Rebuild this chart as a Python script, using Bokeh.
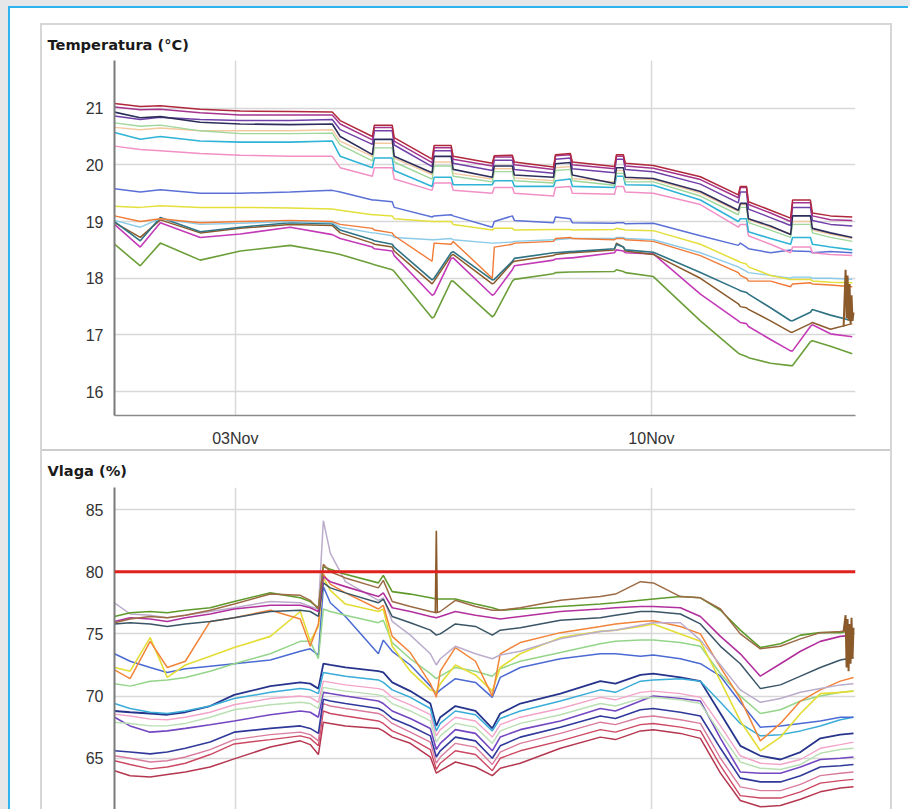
import pandas as pd
from bokeh.plotting import figure
from bokeh.layouts import column, row
from bokeh.models import (Range1d, FixedTicker, DatetimeTickFormatter, Span,
                          Div, Spacer, Grid)
from bokeh.embed import file_html
from bokeh.resources import INLINE

# ---------------- data ----------------
START = pd.Timestamp("2015-10-31 23:15")
SPAN_HOURS = 299.1
DATE_TICKS = ["2015-11-03", "2015-11-10"]
TEMP_TICKS = [16, 17, 18, 19, 20, 21]
HUM_TICKS = [65, 70, 75, 80, 85]
HUM_LIMIT = 80
TEMP_TITLE = "Temperatura (°C)"
HUM_TITLE = "Vlaga (%)"

# temperature: hours since START
T_HOURS = [0, 10.4, 18.5, 34.6, 50.8, 70.9, 87.9, 91.1, 104.1, 104.9,
           112.1, 112.9, 128.2, 129.0, 135.9, 136.7, 152.5, 153.3, 160.6, 161.4,
           177.2, 178.0, 184.0, 184.8, 201.8, 202.6, 205.4, 206.2, 217.5, 236.5,
           251.8, 252.6, 255.1, 255.9, 264.8, 272.9, 273.7, 280.9, 281.7, 289.0, 297.8]

T_U1 = [21.08, 21.03, 21.04, 20.98, 20.95, 20.94, 20.93, 20.78, 20.50, 20.70,
        20.70, 20.48, 20.10, 20.34, 20.34, 20.15, 20.03, 20.16, 20.17, 20.05,
        19.96, 20.18, 20.20, 20.05, 19.97, 20.18, 20.18, 20.03, 19.99, 19.79,
        19.47, 19.62, 19.62, 19.35, 19.20, 19.06, 19.38, 19.38, 19.15, 19.10, 19.08]
T_U2 = [21.02, 20.97, 20.98, 20.92, 20.88, 20.88, 20.88, 20.72, 20.44, 20.66,
        20.66, 20.42, 20.04, 20.30, 20.30, 20.10, 19.98, 20.14, 20.14, 20.00,
        19.92, 20.16, 20.18, 20.00, 19.93, 20.15, 20.15, 19.98, 19.94, 19.74,
        19.42, 19.60, 19.60, 19.30, 19.15, 19.00, 19.33, 19.33, 19.10, 19.03, 19.02]
T_U3 = [20.86, 20.80, 20.84, 20.80, 20.78, 20.78, 20.80, 20.62, 20.36, 20.60,
        20.60, 20.35, 19.97, 20.25, 20.25, 20.03, 19.90, 20.08, 20.08, 19.92,
        19.85, 20.10, 20.12, 19.93, 19.86, 20.10, 20.10, 19.92, 19.88, 19.66,
        19.33, 19.52, 19.52, 19.22, 19.07, 18.93, 19.25, 19.25, 19.02, 18.95, 18.92]
T_U4 = [20.93, 20.83, 20.85, 20.75, 20.72, 20.71, 20.72, 20.50, 20.18, 20.45,
        20.45, 20.15, 19.86, 20.15, 20.15, 19.92, 19.78, 19.98, 19.98, 19.82,
        19.78, 20.02, 20.04, 19.82, 19.67, 19.95, 19.95, 19.78, 19.76, 19.53,
        19.20, 19.32, 19.32, 19.05, 18.92, 18.77, 19.10, 19.10, 18.88, 18.80, 18.72]
T_U5 = [20.74, 20.68, 20.70, 20.60, 20.55, 20.55, 20.56, 20.35, 20.07, 20.30,
        20.30, 20.05, 19.75, 19.98, 19.98, 19.80, 19.70, 19.88, 19.88, 19.72,
        19.68, 19.90, 19.92, 19.72, 19.64, 19.85, 19.85, 19.70, 19.70, 19.45,
        19.12, 19.25, 19.25, 18.98, 18.85, 18.72, 18.95, 18.95, 18.80, 18.72, 18.65]
T_U6 = [20.66, 20.62, 20.65, 20.60, 20.60, 20.60, 20.62, 20.42, 20.15, 20.38,
        20.38, 20.12, 19.83, 20.05, 20.05, 19.85, 19.75, 19.93, 19.93, 19.77,
        19.72, 19.95, 19.97, 19.76, 19.70, 19.90, 19.90, 19.75, 19.74, 19.50,
        19.18, 19.30, 19.30, 19.03, 18.90, 18.78, 19.00, 19.00, 18.85, 18.78, 18.70]
T_U7 = [20.57, 20.45, 20.50, 20.42, 20.40, 20.40, 20.42, 20.15, 19.95, 20.12,
        20.12, 19.90, 19.62, 19.78, 19.78, 19.65, 19.65, 19.72, 19.72, 19.62,
        19.62, 19.72, 19.75, 19.62, 19.60, 19.80, 19.80, 19.65, 19.64, 19.38,
        19.00, 19.05, 19.05, 18.82, 18.70, 18.60, 18.72, 18.72, 18.60, 18.55, 18.50]
T_U8 = [20.33, 20.27, 20.25, 20.20, 20.17, 20.15, 20.15, 19.95, 19.80, 19.95,
        19.95, 19.75, 19.55, 19.68, 19.68, 19.55, 19.50, 19.60, 19.60, 19.50,
        19.45, 19.60, 19.62, 19.50, 19.48, 19.62, 19.62, 19.52, 19.50, 19.30,
        18.90, 18.95, 18.95, 18.75, 18.60, 18.45, 18.55, 18.55, 18.45, 18.42, 18.40]
T_B1 = [19.58, 19.52, 19.56, 19.50, 19.50, 19.52, 19.55, 19.52, 19.38, 19.38,
        19.35, 19.25, 19.08, 19.10, 19.12, 19.10, 18.90, 19.00, 19.10, 19.02,
        18.98, 19.08, 19.05, 18.98, 18.97, 18.98, 18.98, 18.96, 18.97, 18.75,
        18.58, 18.62, 18.55, 18.52, 18.45, 18.50, 18.48, 18.47, 18.45, 18.47, 18.45]
T_Y = [19.27, 19.25, 19.28, 19.25, 19.25, 19.24, 19.22, 19.20, 19.12, 19.12,
       19.10, 19.05, 19.00, 19.00, 19.00, 18.95, 18.85, 18.88, 18.88, 18.85,
       18.86, 18.86, 18.86, 18.85, 18.86, 18.88, 18.86, 18.85, 18.84, 18.60,
       18.30, 18.28, 18.25, 18.20, 18.05, 17.98, 17.98, 17.98, 17.95, 17.93, 17.92]
T_O = [19.10, 19.00, 19.05, 18.98, 19.00, 19.02, 19.00, 18.95, 18.88, 18.85,
       18.80, 18.75, 18.30, 18.62, 18.60, 18.65, 18.00, 18.55, 18.60, 18.62,
       18.65, 18.70, 18.72, 18.70, 18.68, 18.70, 18.70, 18.68, 18.65, 18.40,
       18.10, 18.05, 18.00, 17.95, 17.95, 17.85, 17.90, 17.92, 17.90, 17.88, 17.85]
T_LB = [19.02, 18.90, 19.05, 18.95, 18.97, 19.00, 18.98, 18.90, 18.80, 18.80,
        18.75, 18.72, 18.68, 18.68, 18.70, 18.68, 18.62, 18.62, 18.64, 18.65,
        18.68, 18.68, 18.70, 18.70, 18.70, 18.72, 18.72, 18.70, 18.68, 18.45,
        18.20, 18.18, 18.12, 18.10, 18.05, 18.00, 18.02, 18.02, 18.00, 18.00, 17.98]
T_T = [19.00, 18.66, 19.07, 18.82, 18.90, 18.98, 18.96, 18.85, 18.68, 18.66,
       18.60, 18.55, 17.97, 18.00, 18.45, 18.47, 17.97, 17.98, 18.30, 18.35,
       18.45, 18.45, 18.47, 18.47, 18.52, 18.60, 18.55, 18.50, 18.46, 18.10,
       17.80, 17.78, 17.75, 17.72, 17.48, 17.25, 17.25, 17.40, 17.45, 17.35, 17.25]
T_BR = [18.98, 18.72, 19.03, 18.80, 18.88, 18.95, 18.93, 18.80, 18.62, 18.60,
        18.55, 18.48, 17.90, 17.95, 18.40, 18.42, 17.90, 17.92, 18.28, 18.30,
        18.40, 18.42, 18.45, 18.45, 18.50, 18.62, 18.55, 18.48, 18.42, 18.00,
        17.55, 17.50, 17.48, 17.45, 17.25, 17.05, 17.05, 17.20, 17.22, 17.10, 17.20]
T_M = [18.95, 18.55, 18.98, 18.72, 18.78, 18.90, 18.77, 18.70, 18.55, 18.52,
       18.48, 18.40, 17.70, 17.72, 18.35, 18.36, 17.70, 17.72, 18.15, 18.22,
       18.32, 18.34, 18.36, 18.36, 18.45, 18.50, 18.48, 18.45, 18.43, 17.72,
       17.25, 17.22, 17.20, 17.15, 16.92, 16.72, 16.72, 17.15, 17.18, 17.02, 16.97]
T_G = [18.60, 18.22, 18.62, 18.32, 18.48, 18.58, 18.45, 18.42, 18.25, 18.24,
       18.15, 18.12, 17.30, 17.32, 17.95, 17.95, 17.32, 17.35, 17.95, 17.98,
       18.08, 18.10, 18.11, 18.11, 18.12, 18.15, 18.12, 18.10, 18.03, 17.25,
       16.68, 16.66, 16.62, 16.60, 16.50, 16.46, 16.46, 16.88, 16.90, 16.80, 16.67]
T_BR_SPIKE_HOURS = [294.3, 295.1, 295.5, 295.9, 296.3, 296.7, 297.1, 297.5, 297.9, 298.3]
T_BR_SPIKE = [17.15, 18.15, 17.30, 18.05, 17.25, 17.90, 17.20, 17.70, 17.25, 17.40]

# humidity: hours since START
H_HOURS = [0, 6.3, 14.4, 21.3, 28.6, 38.6, 48.3, 62.9, 75.0, 79.0,
           82.3, 84.3, 87.1, 93.2, 106.5, 108.5, 112.1, 119.4, 127.5, 129.9,
           131.5, 137.6, 145.7, 152.5, 155.7, 163.8, 180.0, 196.1, 202.2, 212.3,
           217.5, 228.4, 236.5, 244.6, 252.6, 260.7, 268.8, 276.9, 284.9, 293.0, 298.3]

H_BROWN = [75.9, 76.2, 76.4, 76.3, 76.5, 76.9, 77.4, 78.2, 78.1, 77.7,
           77.0, 80.6, 80.0, 79.5, 78.7, 79.3, 77.6, 77.2, 76.8, 76.7,
           76.8, 77.7, 77.2, 76.9, 76.9, 77.1, 77.7, 78.0, 78.2, 79.2,
           79.1, 78.0, 77.9, 77.0, 75.0, 73.8, 74.0, 74.6, 75.1, 75.2, 75.3]
H_GREEN = [76.4, 76.7, 76.8, 76.7, 76.9, 77.1, 77.6, 78.3, 77.9, 77.6,
           77.1, 80.4, 80.2, 79.8, 79.1, 79.7, 78.4, 78.2, 77.9, 77.8,
           77.8, 77.8, 77.4, 77.1, 76.9, 77.0, 77.2, 77.4, 77.5, 77.7,
           77.8, 78.0, 77.9, 76.9, 75.3, 73.9, 74.2, 74.9, 75.1, 75.1, 75.3]
H_MAGENTA = [76.0, 76.3, 76.2, 76.0, 76.3, 76.6, 77.0, 77.3, 77.3, 77.1,
             76.8, 79.6, 79.2, 78.8, 78.0, 78.3, 77.1, 76.8, 76.4, 76.3,
             76.4, 76.8, 76.5, 76.3, 76.2, 76.4, 76.8, 77.0, 77.1, 77.2,
             77.2, 77.1, 76.4, 74.8, 73.4, 71.6, 72.6, 73.6, 74.4, 74.8, 74.9]
H_SLATE = [75.8, 75.9, 75.8, 75.6, 75.8, 76.0, 76.3, 76.8, 76.9, 76.8,
           76.4, 79.1, 78.7, 78.3, 77.5, 77.8, 76.4, 75.9, 75.3, 74.9,
           75.0, 75.8, 75.6, 74.9, 75.3, 75.5, 76.1, 76.3, 76.5, 76.8,
           76.8, 76.6, 75.8, 74.0, 72.6, 70.6, 70.9, 71.6, 72.3, 72.9, 73.1]
H_LILAC = [77.5, 76.6, 76.5, 76.3, 76.5, 76.8, 77.1, 77.6, 77.5, 77.2,
           77.0, 84.1, 81.5, 79.2, 77.7, 77.9, 76.0, 74.9, 73.4, 72.5,
           73.0, 74.0, 73.4, 73.0, 73.3, 73.6, 74.6, 75.2, 75.3, 75.7,
           75.9, 75.9, 74.5, 72.5, 70.5, 69.5, 69.8, 70.3, 70.6, 70.9, 71.0]
H_ORANGE = [72.1, 71.4, 74.4, 72.3, 72.8, 76.0, 76.3, 76.9, 76.2, 74.0,
            75.8, 79.8, 79.0, 78.3, 77.0, 77.3, 74.8, 73.5, 71.0, 69.9,
            72.0, 73.9, 72.8, 70.0, 73.4, 74.3, 75.1, 75.6, 75.8, 76.0,
            76.05, 75.6, 75.0, 72.3, 69.8, 66.4, 67.8, 69.6, 70.5, 71.2, 71.5]
H_YELLOW = [72.3, 72.0, 74.7, 71.5, 72.5, 73.2, 73.9, 74.8, 76.8, 74.4,
            75.6, 79.5, 78.5, 77.4, 76.8, 77.0, 74.0, 72.0, 70.5, 70.3,
            71.0, 72.5, 71.7, 70.4, 72.3, 73.4, 74.7, 75.2, 75.3, 75.6,
            75.8, 75.0, 74.4, 71.2, 68.0, 65.6, 66.7, 68.6, 70.2, 70.3, 70.4]
H_LGREEN = [71.0, 70.8, 71.2, 71.3, 71.5, 72.0, 72.6, 73.4, 74.4, 74.4,
            73.0, 77.0, 76.8, 76.5, 75.9, 76.1, 74.3, 73.0, 71.8, 71.4,
            71.6, 72.3, 72.0, 71.6, 72.2, 72.8, 73.5, 74.2, 74.4, 74.5,
            74.5, 74.3, 74.0, 71.8, 70.0, 68.6, 68.9, 69.6, 70.0, 70.3, 70.4]
H_BLUE = [73.4, 72.8, 72.3, 71.9, 72.2, 72.4, 72.6, 72.9, 73.6, 73.8,
          73.3, 78.8, 77.5, 76.4, 73.4, 74.5, 73.6, 72.5, 70.8, 70.2,
          70.5, 71.4, 71.1, 69.9, 71.5, 72.3, 73.0, 73.4, 73.4, 73.2,
          73.3, 73.0, 72.6, 71.6, 69.5, 67.5, 67.6, 67.8, 68.0, 68.3, 68.3]
H_CYAN = [69.4, 69.0, 68.7, 68.6, 68.8, 69.2, 69.8, 70.3, 70.6, 70.5,
          70.2, 71.9, 71.8, 71.6, 71.3, 71.1, 70.5, 69.9, 69.0, 67.2,
          67.8, 68.8, 68.5, 67.2, 68.2, 68.8, 69.6, 70.5, 70.3, 71.2,
          71.3, 71.4, 71.2, 69.5, 67.8, 66.8, 66.9, 67.2, 67.6, 68.1, 68.3]
H_NAVY = [68.8, 68.7, 68.6, 68.5, 68.7, 69.2, 70.1, 70.8, 71.1, 71.0,
          70.6, 72.6, 72.5, 72.3, 72.0, 71.9, 71.1, 70.4, 69.4, 67.6,
          68.3, 69.2, 68.8, 67.4, 68.6, 69.4, 70.2, 71.2, 71.0, 71.7,
          71.8, 71.5, 71.2, 68.6, 66.0, 65.2, 64.9, 65.5, 66.6, 66.9, 67.0]
H_PINK = [68.55, 68.4, 68.15, 68.1, 68.3, 68.7, 69.3, 69.8, 70.0, 69.9,
          69.5, 71.2, 71.1, 70.9, 70.6, 70.5, 69.9, 69.3, 68.5, 66.8,
          67.3, 68.3, 68.0, 66.7, 67.7, 68.3, 69.0, 69.9, 69.7, 70.3,
          70.4, 70.2, 69.9, 67.6, 65.2, 64.6, 64.5, 64.9, 65.8, 66.1, 66.3]
H_PALE = [67.9, 67.8, 67.6, 67.6, 67.8, 68.3, 68.9, 69.3, 69.5, 69.4,
          69.0, 70.7, 70.6, 70.4, 70.1, 70.0, 69.4, 68.8, 68.0, 66.3,
          66.8, 67.8, 67.5, 66.2, 67.2, 67.8, 68.5, 69.4, 69.2, 69.8,
          69.9, 69.7, 69.4, 67.0, 64.7, 64.2, 64.1, 64.5, 65.4, 65.7, 65.8]
H_PURPLE = [68.3, 67.6, 67.1, 67.2, 67.4, 67.7, 68.0, 68.5, 68.8, 68.7,
            68.3, 70.3, 70.2, 70.0, 69.6, 69.4, 68.8, 68.2, 67.4, 65.7,
            66.2, 67.3, 67.0, 65.6, 66.7, 67.3, 68.0, 69.0, 68.8, 69.6,
            70.0, 69.8, 69.6, 66.6, 63.9, 63.8, 63.8, 64.3, 64.9, 65.0, 65.1]
H_DBLUE = [65.6, 65.5, 65.35, 65.5, 65.8, 66.3, 67.1, 67.4, 67.6, 67.4,
           67.0, 69.75, 69.6, 69.4, 69.0, 68.8, 68.2, 67.6, 66.8, 65.1,
           65.6, 66.7, 66.4, 65.0, 66.0, 66.7, 67.5, 68.4, 68.2, 68.9,
           69.0, 68.7, 68.4, 65.8, 63.4, 63.1, 63.1, 63.6, 64.3, 64.4, 64.5]
H_ROSE = [65.2, 65.0, 64.7, 64.8, 65.1, 65.7, 66.5, 66.9, 67.1, 66.9,
          66.4, 69.4, 69.2, 69.0, 68.6, 68.4, 67.8, 67.1, 66.3, 64.6,
          65.1, 66.2, 65.9, 64.5, 65.5, 66.2, 67.0, 67.9, 67.7, 68.3,
          68.4, 68.1, 67.8, 65.0, 62.7, 62.4, 62.4, 62.9, 63.6, 63.8, 63.9]
H_CRIMSON = [64.8, 64.5, 64.15, 64.3, 64.6, 65.3, 66.15, 66.5, 66.8, 66.6,
             66.0, 68.8, 68.6, 68.4, 68.0, 67.8, 67.2, 66.6, 65.7, 64.1,
             64.6, 65.6, 65.3, 64.0, 65.0, 65.6, 66.4, 67.3, 67.1, 67.7,
             67.8, 67.5, 67.2, 64.4, 62.0, 61.8, 61.8, 62.3, 63.0, 63.2, 63.3]
H_MAROON = [64.0, 63.6, 63.5, 63.7, 63.9, 64.3, 64.95, 65.9, 66.4, 66.1,
            65.3, 67.9, 67.8, 67.6, 67.4, 67.2, 66.7, 66.2, 65.1, 63.8,
            64.0, 64.7, 64.3, 63.6, 64.2, 64.6, 65.8, 66.7, 66.5, 67.2,
            67.3, 67.0, 66.6, 63.8, 61.6, 61.1, 61.2, 61.7, 62.3, 62.6, 62.7]
H_BROWN_SPIKE_HOURS = [129.5, 129.9, 130.3]
H_BROWN_SPIKE = [76.7, 83.3, 76.7]
H_BROWN_END_HOURS = [294.3, 295.1, 295.5, 295.9, 296.3, 296.7, 297.1, 297.5, 297.9, 298.3]
H_BROWN_END = [75.2, 76.5, 72.3, 76.2, 72.0, 75.8, 72.6, 76.3, 73.0, 75.5]

# ---------------- helpers ----------------
def to_dt(hours):
    return (START + pd.to_timedelta(hours, unit="h")).values

def ms(ts):
    return pd.Timestamp(ts).value / 1e6

x_start = ms(START)
x_end = ms(START + pd.Timedelta(hours=SPAN_HOURS))
tick_ms = [ms(d) for d in DATE_TICKS]

CYAN = "#2db4ee"
PAGE_BG = "#e5e7e9"
PANEL_GREY = "#d6d6d6"
GRID = "#d8d8d8"
FONT = "Liberation Sans"


def make_fig(height, yr, top, bottom, show_x, title, standoff):
    p = figure(width=848, height=height, x_axis_type="datetime",
               x_range=Range1d(x_start, x_end), y_range=Range1d(*yr),
               x_axis_location="below" if show_x else None,
               output_backend="svg", toolbar_location=None,
               min_border_left=72, min_border_right=35,
               min_border_top=top, min_border_bottom=bottom,
               background_fill_color="white", border_fill_color="white",
               outline_line_color=None)
    p.title.text = title
    p.title.align = "left"
    p.title.offset = -67
    p.title.standoff = standoff
    p.title.text_font = "DejaVu Sans"
    p.title.text_font_style = "bold"
    p.title.text_font_size = "14.6px"
    p.title.text_color = "#1a1a1a"
    p.yaxis.axis_line_color = "#7a7a7a"
    p.yaxis.axis_line_width = 2
    p.yaxis.major_tick_line_color = None
    p.yaxis.minor_tick_line_color = None
    p.yaxis.major_label_text_font = FONT
    p.yaxis.major_label_text_font_size = "16px"
    p.yaxis.major_label_text_color = "#333333"
    p.yaxis.major_label_standoff = 5
    p.ygrid.grid_line_color = GRID
    p.ygrid.grid_line_width = 1.5
    if show_x:
        p.xaxis.ticker = FixedTicker(ticks=tick_ms)
        p.xaxis.formatter = DatetimeTickFormatter(
            days="%d%b", months="%d%b", hours="%d%b", hourmin="%d%b",
            years="%d%b", minutes="%d%b", minsec="%d%b", seconds="%d%b")
        p.xaxis.axis_line_color = "#8a8a8a"
        p.xaxis.axis_line_width = 1.5
        p.xaxis.major_tick_line_color = None
        p.xaxis.minor_tick_line_color = None
        p.xaxis.major_label_text_font = FONT
        p.xaxis.major_label_text_font_size = "16px"
        p.xaxis.major_label_text_color = "#333333"
        p.xaxis.major_label_standoff = 8
    if len(p.xgrid) == 0:
        p.add_layout(Grid(dimension=0, ticker=FixedTicker(ticks=tick_ms)))
    p.xgrid.ticker = FixedTicker(ticks=tick_ms)
    p.xgrid.grid_line_color = GRID
    p.xgrid.grid_line_width = 1.5
    return p


# ---------------- temperature ----------------
p1 = make_fig(424, (15.58, 21.84), 35, 31, True, TEMP_TITLE, 16)
p1.yaxis.ticker = FixedTicker(ticks=TEMP_TICKS)
p1.ygrid.ticker = FixedTicker(ticks=TEMP_TICKS)

temp_series = [
    (T_G, "#6c9f3a", 1.6), (T_M, "#c43bb7", 1.6), (T_BR, "#8b5a2b", 1.5),
    (T_T, "#2f7384", 1.6), (T_LB, "#8ccbe8", 1.4), (T_O, "#f07a36", 1.4),
    (T_Y, "#e4df3c", 1.5), (T_B1, "#5a70d6", 1.5),
    (T_U8, "#f290c6", 1.5), (T_U7, "#2fb3d6", 1.6), (T_U6, "#f3c9a0", 1.4),
    (T_U5, "#9fd69a", 1.4), (T_U3, "#7040a8", 1.5), (T_U4, "#2e2e5c", 1.6),
    (T_U2, "#a4348e", 1.5), (T_U1, "#b0283c", 1.5),
]
tx = to_dt(T_HOURS)
for vals, col, w in temp_series:
    p1.line(tx, vals, line_color=col, line_width=w)
p1.line(to_dt(T_BR_SPIKE_HOURS), T_BR_SPIKE, line_color="#8b5a2b", line_width=2)

# ---------------- humidity ----------------
p2 = make_fig(358, (60.88, 86.77), 36, 0, False, HUM_TITLE, 17)
p2.yaxis.ticker = FixedTicker(ticks=HUM_TICKS)
p2.ygrid.ticker = FixedTicker(ticks=HUM_TICKS)

hum_series = [
    (H_MAROON, "#b5374f", 1.5), (H_CRIMSON, "#cc4862", 1.4), (H_ROSE, "#d97b9c", 1.4),
    (H_DBLUE, "#30399a", 1.6), (H_PURPLE, "#7347c1", 1.6), (H_PALE, "#b9dfb2", 1.4),
    (H_PINK, "#f3a4c8", 1.4), (H_NAVY, "#27348c", 1.8), (H_CYAN, "#39acd8", 1.5),
    (H_BLUE, "#4b6bd3", 1.5), (H_LGREEN, "#94d58a", 1.5), (H_YELLOW, "#e3dd35", 1.6),
    (H_ORANGE, "#f2843a", 1.5), (H_LILAC, "#bcaccc", 1.5), (H_SLATE, "#3a5566", 1.5),
    (H_MAGENTA, "#b2309e", 1.6), (H_GREEN, "#5f9a2c", 1.6), (H_BROWN, "#9c6b45", 1.5),
]
hx = to_dt(H_HOURS)
for vals, col, w in hum_series:
    p2.line(hx, vals, line_color=col, line_width=w)
p2.line(to_dt(H_BROWN_SPIKE_HOURS), H_BROWN_SPIKE, line_color="#8b5a2b", line_width=1.6)
p2.line(to_dt(H_BROWN_END_HOURS), H_BROWN_END, line_color="#8b5a2b", line_width=2)

p2.add_layout(Span(location=HUM_LIMIT, dimension="width",
                   line_color="#e0211d", line_width=3))

# ---------------- page layout ----------------
def bar(w, h, color):
    return Div(width=w, height=h, margin=0, styles={"background-color": color})

panel_inner = column(bar(848, 2, PANEL_GREY), p1, bar(848, 2, "#cdcdcd"), p2)
panel = row(bar(2, 786, PANEL_GREY), panel_inner, bar(2, 786, PANEL_GREY))
body = column(Spacer(height=15), row(Spacer(width=30), panel))
framed = column(bar(900, 2, CYAN), row(bar(2, 801, CYAN), body))
page = column(bar(910, 6, PAGE_BG), row(bar(8, 803, PAGE_BG), framed))

open("out.html", "w").write(file_html(page, INLINE))
